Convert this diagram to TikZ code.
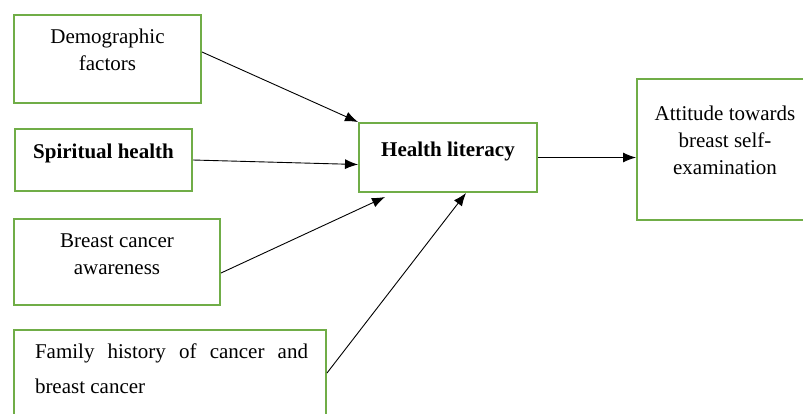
\documentclass[tikz,border=0pt]{standalone}
\usepackage{fontspec}
\setmainfont{Liberation Serif}
\usetikzlibrary{arrows.meta}
\definecolor{boxgreen}{RGB}{112,173,71}
\newcommand{\boxtext}[4]{\parbox[t][#2pt][t]{#1pt}{\centering\rule{0pt}{#3pt}#4}}

\begin{document}
\begin{tikzpicture}[x=1pt, y=-1pt,
	box/.style={draw=boxgreen, line width=2pt, fill=white, inner sep=0pt, anchor=north west, font=\fontsize{21}{27}\selectfont},
	arr/.style={-{Latex[length=13pt,width=10pt]}, line width=0.9pt}]
	\clip (0,0) rectangle (803,413);
	\node[box] (demo) at (13,14) {\boxtext{187}{88}{28}{Demographic\\factors}};
	\node[box] (spirit) at (14,128) {\boxtext{177}{62}{29}{\textbf{Spiritual health}}};
	\node[box] (aware) at (13,218) {\boxtext{206}{86}{28}{Breast cancer\\awareness}};
	\node[box] (family) at (13,329) {\parbox[t][110pt][t]{312pt}{\fontsize{21}{35}\selectfont\leftskip=21pt\rule{0pt}{28pt}\makebox[273pt][s]{Family history of cancer and}\\breast cancer}};
	\node[box] (hl) at (358,122) {\boxtext{178}{69}{33}{\textbf{Health literacy}}};
	\node[box] (att) at (636,78) {\boxtext{176}{141}{41}{Attitude towards\\breast self-\\examination}};
	\draw[arr] ([yshift=7pt]demo.east) -- (hl.north west);
	\draw[arr] (spirit.east) -- ([yshift=-7pt]hl.west);
	\draw[arr] ([yshift=-11pt]aware.east) -- ([xshift=27pt,yshift=-4pt]hl.south west);
	\draw[arr] ([yshift=-44pt]family.north east) -- ([xshift=108pt]hl.south west);
	\draw[arr] (hl.east) -- (hl.east -| att.west);
\end{tikzpicture}
\end{document}
